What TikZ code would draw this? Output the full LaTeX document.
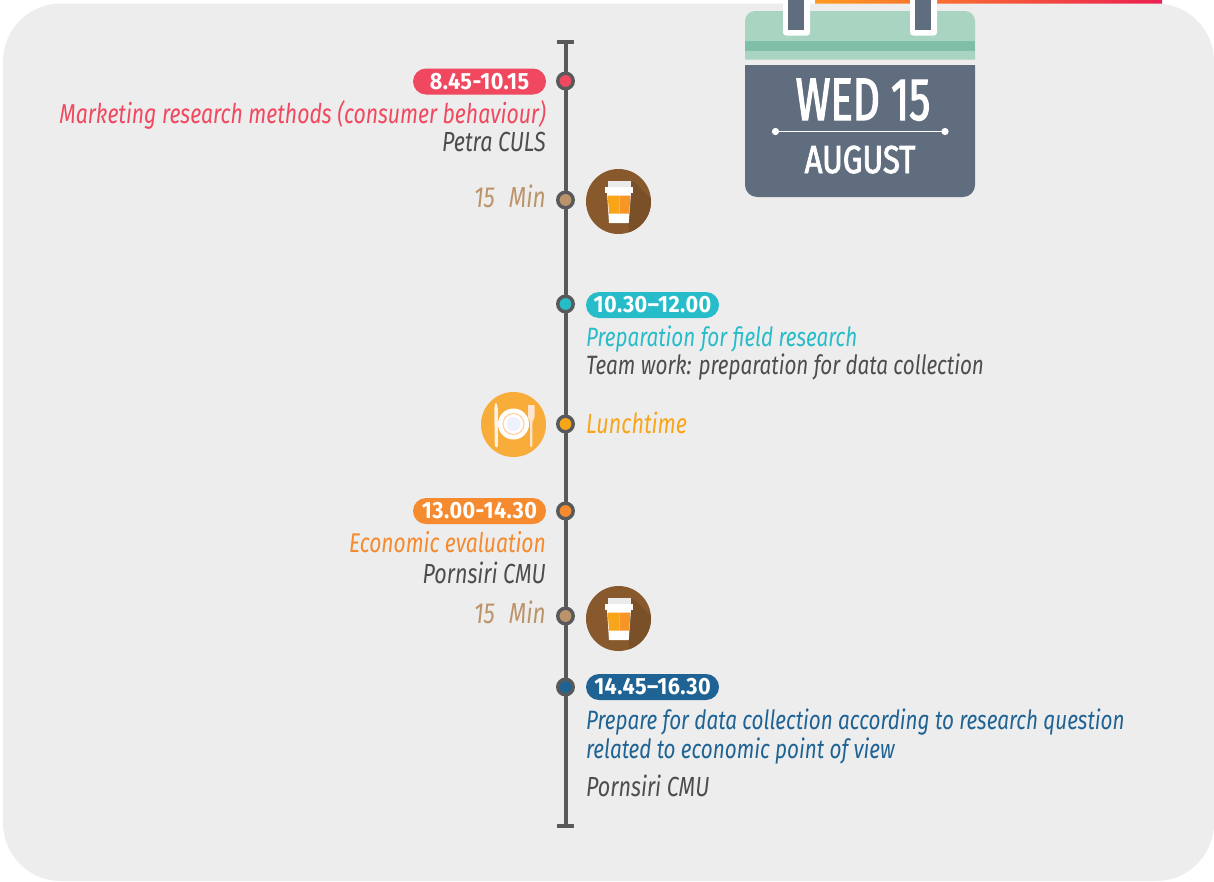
\documentclass[tikz,border=0pt]{standalone}
\usepackage{fontspec}
\setmainfont{Fira Sans}
\newfontfamily\condfont[FakeStretch=0.78]{Fira Sans}
\newfontfamily\headfont[FakeStretch=0.70,FakeBold=2]{Fira Sans}
\newfontfamily\subfont[FakeStretch=0.80,FakeBold=2]{Fira Sans}
\newfontfamily\pillfont[FakeStretch=0.92,LetterSpace=2]{Fira Sans}
\usetikzlibrary{calc}
\definecolor{bgpanel}{HTML}{EDEDED}
\definecolor{spine}{HTML}{58595B}
\definecolor{cred}{HTML}{F0485F}
\definecolor{ccyan}{HTML}{27BCC9}
\definecolor{corange}{HTML}{F58A2E}
\definecolor{cblue}{HTML}{1F6394}
\definecolor{ctan}{HTML}{BC9469}
\definecolor{clunch}{HTML}{F9A51A}
\definecolor{cgrey}{HTML}{4D4D4D}
\definecolor{slate}{HTML}{5F6D7E}
\definecolor{mint}{HTML}{A9D4C2}
\definecolor{mintdark}{HTML}{7FBFA8}
\definecolor{brown}{HTML}{87592D}
\definecolor{brownd}{HTML}{7A5029}
\definecolor{platebg}{HTML}{F8AC3A}
\definecolor{baro}{HTML}{FF9A1E}
\definecolor{barm}{HTML}{FF7020}
\definecolor{barr}{HTML}{EC1F52}
\tikzset{
 x=1pt,y=-1pt,
 dot/.style={circle,draw=spine,line width=3.4pt,minimum size=15.5pt,inner sep=0pt},
 pill/.style={rounded corners=13pt,minimum width=133pt,minimum height=26pt,inner sep=0pt,text=white,
   font=\pillfont\fontsize{23.5}{23.5}\selectfont\bfseries},
 leftt/.style={anchor=base east,inner sep=0pt,font=\condfont\fontsize{26.5}{26.5}\selectfont\itshape},
 rightt/.style={anchor=base west,inner sep=0pt,font=\condfont\fontsize{26.5}{26.5}\selectfont\itshape},
 ringout/.style={fill=white!95!bgpanel,rounded corners=3pt},
}
\newcommand{\bigger}[2][27.6]{{\fontsize{#1}{#1}\selectfont #2}}
\newcommand{\coffeeicon}[3]{%
 \node[circle,fill=brown,minimum size=65pt,inner sep=0pt] (#3) at (#1,#2) {};
 \begin{scope}[shift={(#1,#2)}]
  \clip (0,0) circle (32.5);
  \fill[brownd] (-13,-10) -- (15,-20) -- (40,5) -- (40,40) -- (10,40) -- (10,22) -- cycle;
  \fill[white] (-11.5,-9) -- (12.5,-9) -- (10.2,21.5) -- (-9.5,21.5) -- cycle;
  \fill[white!92!black] (-11,-20.5) rectangle (12,-14);
  \fill[white] (-13.5,-15) rectangle (14.5,-9);
  \fill[clunch] (-10.8,-6) -- (1,-6) -- (1,12) -- (-9.5,12) -- cycle;
  \fill[corange!60!clunch] (1,-6) -- (11.8,-6) -- (10.8,12) -- (1,12) -- cycle;
 \end{scope}}
\begin{document}
\begin{tikzpicture}
\useasboundingbox (0,0) rectangle (1214,881);
\fill[white] (0,0) rectangle (1214,881);
% top bar
\shade[left color=baro,middle color=barm,right color=barr] (815,-2) rectangle (1162,8);
% panel
\fill[bgpanel,rounded corners=58pt] (3,3.5) rectangle (1214,881);
% calendar
\fill[mint] (745,59.5) [rounded corners=10pt] -- (745,11) -- (975,11) [sharp corners] -- (975,59.5) -- cycle;
\fill[mintdark] (745,41) rectangle (975,51);
\fill[slate] (745,65) [rounded corners=12pt] -- (745,197) -- (975,197) [sharp corners] -- (975,65) -- cycle;
\fill[ringout] (783,-5) rectangle (810,35.5);
\fill[ringout] (910,-5) rectangle (937,35.5);
\fill[white] (783,-5) rectangle (810,20);
\fill[white] (910,-5) rectangle (937,20);
\fill[slate] (788,-5) rectangle (804,30);
\fill[slate] (915,-5) rectangle (931,30);
\node[font=\headfont\fontsize{60}{60}\selectfont,text=white,anchor=base,inner sep=0pt] (wed) at (863,120) {WED 15};
\coordinate (rulea) at (775.5,131.5);
\coordinate (ruleb) at (945,131.5);
\draw[white,line width=1.6pt] (rulea) -- (ruleb);
\fill[white] (rulea) circle (3.6);
\fill[white] (ruleb) circle (3.6);
\node[font=\subfont\fontsize{39}{39}\selectfont,text=white,anchor=base,inner sep=0pt] (aug) at (860,173) {AUGUST};
% spine
\coordinate (top) at (565.5,42);
\coordinate (bot) at (565.5,826);
\draw[spine,line width=4pt] (top) -- (bot);
\draw[spine,line width=3.8pt] ($(top)+(-8.5,0)$) -- ($(top)+(8.5,0)$);
\draw[spine,line width=3.8pt] ($(bot)+(-8.5,0)$) -- ($(bot)+(8.5,0)$);
% dots
\node[dot,fill=cred] (d1) at (565.5,81) {};
\node[dot,fill=ctan] (d2) at (565.5,200) {};
\node[dot,fill=ccyan] (d3) at (565.5,304) {};
\node[dot,fill=clunch] (d4) at (565.5,424) {};
\node[dot,fill=corange] (d5) at (565.5,511) {};
\node[dot,fill=ctan] (d6) at (565.5,616) {};
\node[dot,fill=cblue] (d7) at (565.5,687) {};
% pills
\node[pill,fill=cred] (p1) at (479.5,81.5) {8.45-10.15};
\node[pill,fill=ccyan] (p3) at (652.5,305) {10.30–12.00};
\node[pill,fill=corange] (p5) at (479.5,511) {13.00-14.30};
\node[pill,fill=cblue] (p7) at (652.5,687) {14.45–16.30};
% texts
\node[leftt,text=cred] (t1a) at (546,123.6) {\bigger[27.2]{Marketing research methods (consumer behaviour)}};
\node[leftt,text=cgrey] (t1b) at (546,151.6) {\bigger{Petra CULS}};
\node[leftt,text=ctan] (t2) at (546,207.6) {\bigger[29]{15\hspace{14pt}Min}};
\node[rightt,text=ccyan] (t3a) at (586,346.6) {Preparation for field research};
\node[rightt,text=cgrey] (t3b) at (586,374.6) {Team work: preparation for data collection};
\node[rightt,text=clunch] (t4) at (586,433.6) {\bigger{Lunchtime}};
\node[leftt,text=corange] (t5a) at (546,552.6) {\bigger[27]{Economic evaluation}};
\node[leftt,text=cgrey] (t5b) at (546,583.2) {\bigger{Pornsiri CMU}};
\node[leftt,text=ctan] (t6) at (546,623.6) {\bigger[29]{15\hspace{14pt}Min}};
\node[rightt,text=cblue] (t7a) at (586,729.6) {Prepare for data collection according to research question};
\node[rightt,text=cblue] (t7b) at (586,758.6) {related to economic point of view};
\node[rightt,text=cgrey] (t7c) at (586,796.6) {\bigger{Pornsiri CMU}};
% icons
\coffeeicon{618.5}{201.5}{c1}
\coffeeicon{618.5}{618.5}{c2}
\node[circle,fill=platebg,minimum size=65pt,inner sep=0pt] (lunch) at (513.5,424.5) {};
\fill[white] (513.5,424) circle (15.5);
\draw[orange!35!white,line width=1.2pt] (513.5,424) circle (10.5);
\fill[blue!6!white] (513.5,424) circle (7);
\fill[white!90!orange] (494.3,412) .. controls (494.3,400) and (497.5,400) .. (498,412) -- (497.8,446) .. controls (497.5,448) and (495,448) .. (494.8,446) -- cycle;
\fill[white!80!orange] (528,405) -- (534.5,405) -- (534.5,416) .. controls (534.5,420) and (532.5,420) .. (532.3,422) -- (532.3,446) .. controls (532,448) and (530.5,448) .. (530.2,446) -- (530.2,422) .. controls (530,420) and (528,420) .. (528,416) -- cycle;
\end{tikzpicture}
\end{document}
